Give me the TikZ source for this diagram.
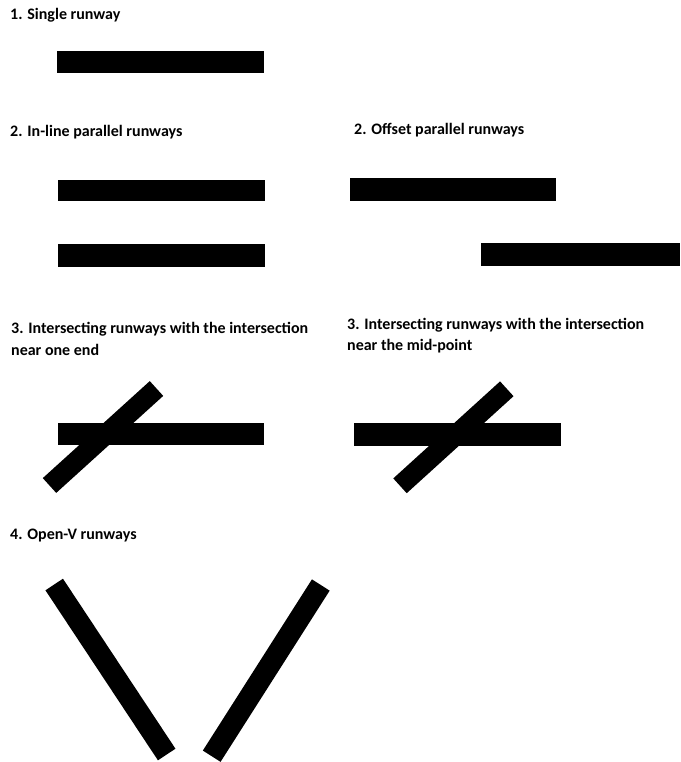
\documentclass[tikz,border=0pt]{standalone}
\usepackage{fontspec}
\setmainfont{Carlito}
\begin{document}
\begin{tikzpicture}[x=1pt,y=-1pt,
  caption/.style={anchor=base west,inner sep=0pt,font=\bfseries\fontsize{16}{19}\selectfont,align=left},
  runway/.style={fill=black,draw=none},
  strip/.style={line width=20pt,line cap=butt},
  vstrip/.style={line width=21pt,line cap=butt}]
\useasboundingbox (0,0) rectangle (680,762);

% 1. Single runway
\node[caption] (t1) at (10,20) {1. Single runway};
\fill[runway] (57,51) rectangle (264,73);

% 2. In-line parallel runways
\node[caption] (t2a) at (10,136.5) {2. In-line parallel runways};
\fill[runway] (58,179.5) rectangle (265,201);
\fill[runway] (58,244) rectangle (265,266.5);

% 2. Offset parallel runways
\node[caption] (t2b) at (354,135) {2. Offset parallel runways};
\fill[runway] (350,178) rectangle (556,201);
\fill[runway] (481,243) rectangle (680,266);

% 3. Intersection near one end
\node[caption] (t3a) at (11,333.3) {3. Intersecting runways with the intersection};
\node[caption] (t3a2) at (11,355) {near one end};
\fill[runway] (58,423) rectangle (264,445);
\coordinate (a1) at (156.5,388.5);
\coordinate (a2) at (49.5,485.5);
\draw[strip] (a1) -- (a2);

% 3. Intersection near the mid-point
\node[caption] (t3b) at (347,329) {3. Intersecting runways with the intersection};
\node[caption] (t3b2) at (347,350.7) {near the mid-point};
\fill[runway] (354,423) rectangle (561,446);
\coordinate (b1) at (506.8,388.8);
\coordinate (b2) at (400,485.8);
\draw[strip] (b1) -- (b2);

% 4. Open-V runways
\node[caption] (t4) at (10,539.3) {4. Open-V runways};
\coordinate (v1) at (54.2,584.5);
\coordinate (v2) at (166.7,754.5);
\coordinate (v3) at (320.8,585);
\coordinate (v4) at (211.7,756.2);
\draw[vstrip] (v1) -- (v2);
\draw[vstrip] (v3) -- (v4);
\end{tikzpicture}
\end{document}
